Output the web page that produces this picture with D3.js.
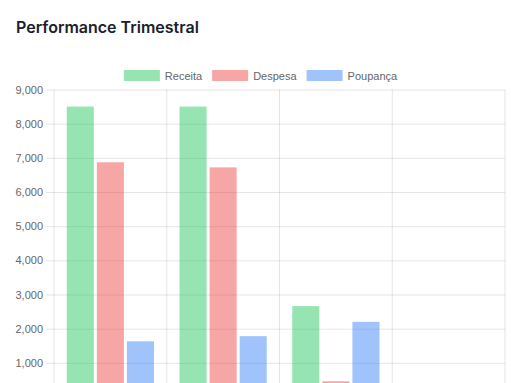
<!DOCTYPE html>
<html>
<head>
<meta charset="utf-8">
<script src="https://cdn.jsdelivr.net/npm/d3@7/dist/d3.min.js"></script>
<style>
html,body{margin:0;padding:0;background:#fff;overflow:hidden;width:511px;height:383px;}
svg{display:block;}
</style>
</head>
<body>
<svg id="chart" width="511" height="383"></svg>
<script>
(function(){
const title = "Performance Trimestral";
const categories = ["T1", "T2", "T3", "T4"];
const seriesNames = ["Receita", "Despesa", "Poupança"];
const receita = [8500, 8500, 2660, null];
const despesa = [6870, 6720, 460, null];
const poupanca = [1630, 1780, 2200, null];
// visible tick labels (0 lies below the visible area)
const yTicks = [1000, 2000, 3000, 4000, 5000, 6000, 7000, 8000, 9000];

const colors = ["rgba(34,197,94,0.47)", "rgba(239,68,68,0.48)", "rgba(59,130,246,0.48)"];
const seriesValues = [receita, despesa, poupanca];

const svg = d3.select("#chart");
const plotLeft = 54, plotRight = 505, plotTop = 89.5, zeroY = 397;
const font = "'Liberation Sans', Arial, Helvetica, sans-serif";

svg.append("text").attr("x", 16).attr("y", 33)
  .attr("font-family", "Inter, 'Noto Sans', sans-serif").attr("font-weight", 600)
  .attr("font-size", 16).attr("fill", "#1a202c").text(title);

const x = d3.scaleBand().domain(categories).range([plotLeft, plotRight]).paddingInner(0).paddingOuter(0);
const y = d3.scaleLinear().domain([0, 9000]).range([zeroY, plotTop]);
const xs = d3.scaleBand().domain(seriesNames).range([0.1 * x.bandwidth(), 0.9 * x.bandwidth()]);

const yAxis = d3.axisLeft(y).tickValues(yTicks).tickSize(8).tickPadding(3)
  .tickFormat(d3.format(","));
const gy = svg.append("g").attr("transform", `translate(${plotLeft},0)`).call(yAxis);
gy.select(".domain").remove();
gy.selectAll(".tick line").attr("stroke", "rgba(0,0,0,0.1)");
gy.selectAll(".tick text").attr("font-family", font).attr("font-size", 11).attr("fill", "#666");
gy.selectAll(".tick").append("line").attr("x1", 0).attr("x2", plotRight - plotLeft)
  .attr("stroke", "rgba(0,0,0,0.1)");

const vBounds = categories.map(c => x(c)).concat([plotRight]);
svg.append("g").selectAll("line").data(vBounds).join("line")
  .attr("x1", d => d).attr("x2", d => d).attr("y1", plotTop).attr("y2", zeroY + 8)
  .attr("stroke", "rgba(0,0,0,0.1)");

const barW = xs.bandwidth() * 0.9;
seriesNames.forEach((s, si) => {
  svg.append("g").selectAll("rect")
    .data(categories.map((c, i) => ({c, v: seriesValues[si][i]})).filter(d => d.v != null))
    .join("rect")
    .attr("x", d => x(d.c) + xs(s) + (xs.bandwidth() - barW) / 2)
    .attr("y", d => y(d.v))
    .attr("width", barW)
    .attr("height", d => zeroY - y(d.v))
    .attr("fill", colors[si]);
});

const legend = svg.append("g");
const boxW = 36, boxH = 11, gapText = 5, gapItem = 10;
const items = seriesNames.map((s, i) => {
  const g = legend.append("g");
  g.append("rect").attr("width", boxW).attr("height", boxH).attr("fill", colors[i]);
  const t = g.append("text").attr("x", boxW + gapText).attr("y", 9.5)
    .attr("font-family", font).attr("font-size", 11).attr("fill", "#666").text(s);
  return {g, w: boxW + gapText + t.node().getComputedTextLength()};
});
const total = d3.sum(items, d => d.w) + gapItem * (items.length - 1);
let cx = 260.5 - total / 2;
items.forEach(it => { it.g.attr("transform", `translate(${cx},70)`); cx += it.w + gapItem; });
})();
</script>
</body>
</html>
